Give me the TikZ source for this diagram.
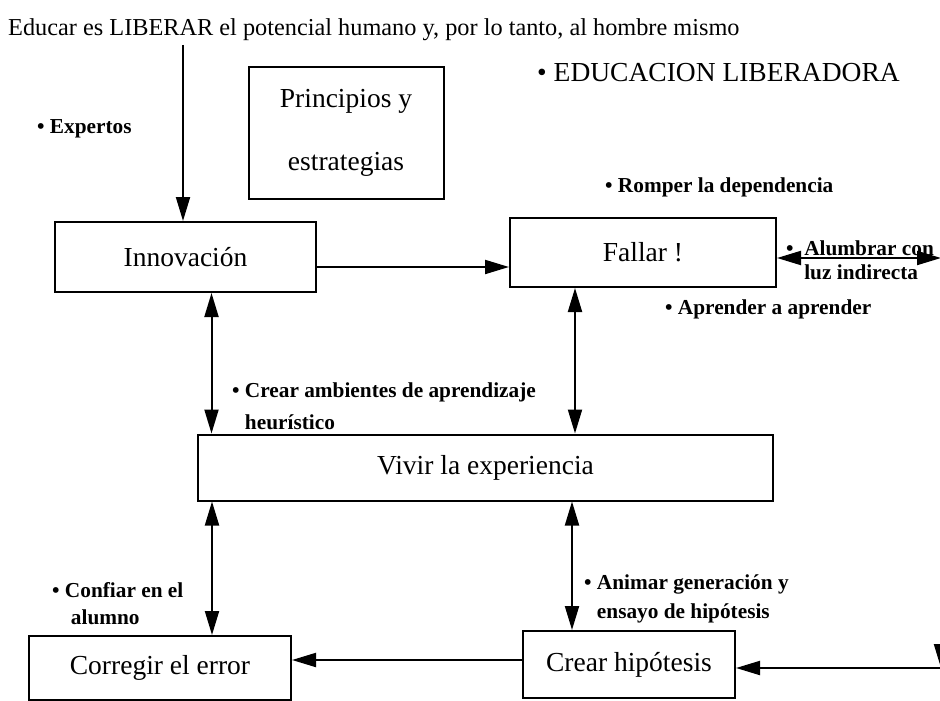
\documentclass[tikz,border=0pt]{standalone}
\usepackage{fontspec}
\setmainfont{Liberation Serif}
\usetikzlibrary{arrows.meta,positioning}

\begin{document}
\begin{tikzpicture}[x=1pt,y=-1pt,
      mybox/.style={
         draw=black,
         line width=2pt,
         inner sep=0pt,
         align=center,
         font=\fontsize{27.5}{32}\selectfont},
      mylabel/.style={
         anchor=base west,
         inner sep=0pt,
         font=\bfseries\fontsize{21.3}{28}\selectfont},
      mytitle/.style={
         anchor=west,
         inner sep=0pt,
         font=\fontsize{24.3}{28}\selectfont},
      myarrow/.style={-{Triangle[length=24pt,width=14pt]},line width=2pt},
      mydouble/.style={{Triangle[length=24pt,width=14pt]}-{Triangle[length=24pt,width=14pt]},line width=2pt}
      ]
      \useasboundingbox (0,0) rectangle (940,701);

      % boxes
      \node[mybox,minimum width=261pt,minimum height=70pt] (inno) at (185.5,257) {Innovación};
      \node[mybox,minimum width=266pt,minimum height=69pt] (fallar) at (643,252.5) {Fallar !};
      \node[mybox,minimum width=195pt,minimum height=132pt] (princ) at (346,133) {Principios y\\[31pt]estrategias};
      \node[mybox,minimum width=575pt,minimum height=66pt] (vivir) at (485.5,467.5) {Vivir la experiencia};
      \node[mybox,minimum width=262pt,minimum height=64pt] (corr) at (160,668) {Corregir el error};
      \node[mybox,minimum width=212pt,minimum height=67pt] (crear) at (629,664.5) {Crear hipótesis};

      % texts
      \node[mytitle] (titulo) at (8,30) {Educar es LIBERAR el potencial humano y, por lo tanto, al hombre mismo};
      \node[mytitle,font=\fontsize{27.5}{32}\selectfont] (edu) at (537,73) {\textbullet\ EDUCACION LIBERADORA};
      \node[mylabel] (expertos) at (37,133) {\textbullet\ Expertos};
      \node[mylabel] (romper) at (605,192) {\textbullet\ Romper la dependencia};
      \node[mylabel] (alumbrar) at (786,255) {\textbullet~~\begin{tabular}[t]{@{}l@{}}Alumbrar con\\[-4pt]luz indirecta\end{tabular}};
      \node[mylabel] (aprender) at (665,314) {\textbullet\ Aprender a aprender};
      \node[mylabel] (ambientes) at (232,397) {\textbullet\ \begin{tabular}[t]{@{}l@{}}Crear ambientes de aprendizaje\\[4pt]heurístico\end{tabular}};
      \node[mylabel] (confiar) at (52,597) {\textbullet\ \begin{tabular}[t]{@{}l@{}}Confiar en el\\[-1pt]\hspace{6pt}alumno\end{tabular}};
      \node[mylabel] (animar) at (584,589) {\textbullet\ \begin{tabular}[t]{@{}l@{}}Animar generación y\\[1pt]ensayo de hipótesis\end{tabular}};

      % right side
      \coordinate (rt) at (941,258);
      \coordinate (rb) at (941,668);

      % connectors
      \coordinate (arriba) at (183,45);
      \draw[myarrow] (arriba) -- (arriba |- inno.north);
      \draw[myarrow] ([yshift=-10pt]inno.east) -- ([yshift=-10pt]inno.east -| fallar.west);
      \draw[mydouble] ([xshift=26pt]inno.south) -- ([xshift=26pt]inno.south |- vivir.north);
      \draw[mydouble] ([xshift=-68pt]fallar.south) -- ([xshift=-68pt]fallar.south |- vivir.north);
      \draw[mydouble] ([xshift=52pt]corr.north) -- ([xshift=52pt]corr.north |- vivir.south);
      \draw[mydouble] ([xshift=-57pt]crear.north) -- ([xshift=-57pt]crear.north |- vivir.south);
      \draw[myarrow] ([yshift=4.5pt]crear.west) -- ([yshift=4.5pt]crear.west -| corr.east);
      \draw[mydouble] ([yshift=-5.5pt]fallar.east) -- (rt);
      \draw[myarrow] (rt) -- (rb);
      \draw[myarrow] (rb) -- (rb -| crear.east);

    \end{tikzpicture}
\end{document}
